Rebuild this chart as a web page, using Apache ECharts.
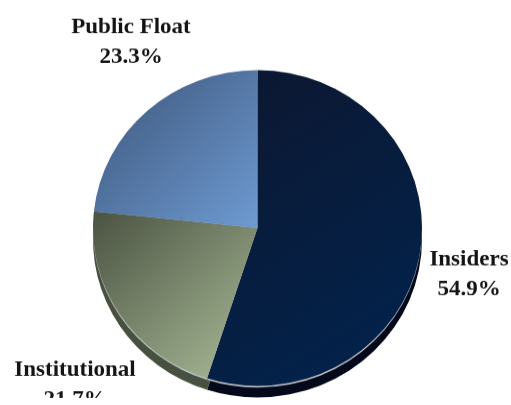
<!DOCTYPE html>
<html>
<head>
<meta charset="utf-8">
<script src="https://cdn.jsdelivr.net/npm/echarts@6/dist/echarts.min.js"></script>
<style>
  html, body { margin: 0; padding: 0; background: #ffffff; }
  #chart { width: 511px; height: 405px; transform: scaleY(0.96); transform-origin: 0 228px; }
</style>
</head>
<body>
<div id="chart"></div>
<script>
// Ownership breakdown (percent of shares)
const categories = ['Insiders', 'Institutional', 'Public Float'];
const shares = [54.9, 21.7, 23.3];

// Face colours: [top-left, bottom-right] of each slice's gradient
const faceColors = [
  ['#0d1730', '#01244f'],
  ['#4a5342', '#acbd99'],
  ['#3c5479', '#6e9bd2']
];
// Darker side (extrusion) colours
const sideColors = ['#03091a', '#485040', '#2e415e'];

const CX = 257.5, CY = 228, R = 164.5, DEPTH = 11.5;

// Label anchor points (centre of each two-line label)
const labelAnchors = [
  [469, 275],
  [75, 385],
  [131, 42]
];
const squash = 0.96;
const toPre = (p) => [p[0], CY + (p[1] - CY) / squash];

function grad(c) {
  return new echarts.graphic.LinearGradient(0, 0, 1, 1, [
    { offset: 0, color: c[0] },
    { offset: 1, color: c[1] }
  ]);
}

const faceData = categories.map((name, i) => ({
  name, value: shares[i], itemStyle: { color: grad(faceColors[i]) }
}));
const sideData = categories.map((name, i) => ({
  name, value: shares[i], itemStyle: { color: sideColors[i] }
}));
const rimData = categories.map((name, i) => ({
  name, value: shares[i], itemStyle: { color: '#b9bcc0' }
}));

const base = {
  type: 'pie',
  radius: R,
  startAngle: 90,
  clockwise: true,
  silent: true,
  animation: false,
  avoidLabelOverlap: false,
  label: { show: false },
  labelLine: { show: false },
  emphasis: { disabled: true }
};

const chart = echarts.init(document.getElementById('chart'), null, { renderer: 'canvas' });
chart.setOption({
  backgroundColor: '#ffffff',
  series: [
    Object.assign({}, base, { center: [CX, CY + DEPTH / squash], data: sideData, z: 1 }),
    Object.assign({}, base, { center: [CX, CY + 1.6 / squash], data: rimData, z: 2 }),
    Object.assign({}, base, {
      center: [CX, CY],
      data: faceData,
      z: 3,
      label: {
        show: true,
        position: 'outside',
        alignTo: 'none',
        overflow: 'none',
        width: 200,
        formatter: '{b}\n{c}%',
        fontFamily: '"Liberation Serif", "DejaVu Serif", serif',
        fontWeight: 'bold',
        fontSize: 23,
        lineHeight: 31,
        color: '#141414'
      },
      labelLine: { show: false },
      labelLayout: function (params) {
        const p = toPre(labelAnchors[params.dataIndex]);
        return { x: p[0], y: p[1], align: 'center', verticalAlign: 'middle' };
      }
    })
  ]
});
</script>
</body>
</html>
